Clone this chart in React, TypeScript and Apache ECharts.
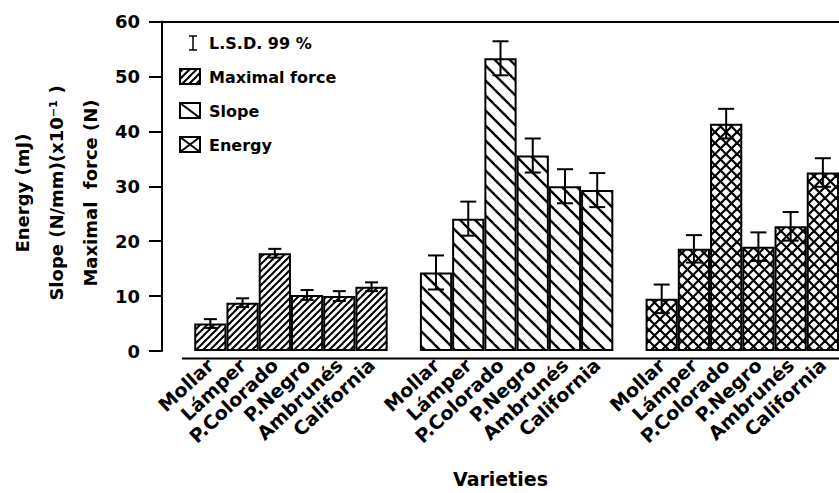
import React, { useEffect, useRef } from "react";
import * as echarts from "echarts";

// ---- data ----
const varieties = ["Mollar", "Lámper", "P.Colorado", "P.Negro", "Ambrunés", "California"];
const groupNames = ["Maximal force", "Slope", "Energy"];
const maximalForce = [5.0, 8.8, 17.8, 10.2, 10.0, 11.7];
const maximalForceLsd = [0.8, 0.8, 0.8, 0.9, 0.9, 0.8];
const slope = [14.3, 24.1, 53.3, 35.6, 30.0, 29.3];
const slopeLsd = [3.1, 3.1, 3.1, 3.1, 3.1, 3.1];
const energy = [9.5, 18.6, 41.4, 19.0, 22.7, 32.5];
const energyLsd = [2.6, 2.5, 2.7, 2.6, 2.6, 2.6];
const yMin = 0;
const yMax = 60;
const yStep = 10;

const FONT = "'DejaVu Sans', sans-serif";

function makeHatch(w: number, h: number, dirs: string[], lw: number) {
  const c = document.createElement("canvas");
  c.width = w;
  c.height = h;
  const ctx = c.getContext("2d")!;
  ctx.fillStyle = "#fff";
  ctx.fillRect(0, 0, w, h);
  ctx.strokeStyle = "#000";
  ctx.lineWidth = lw;
  for (const d of dirs) {
    for (const dx of [-w, 0, w]) {
      ctx.beginPath();
      if (d === "\\") {
        ctx.moveTo(dx - w, -h);
        ctx.lineTo(dx + 2 * w, 2 * h);
      } else {
        ctx.moveTo(dx - w, 2 * h);
        ctx.lineTo(dx + 2 * w, -h);
      }
      ctx.stroke();
    }
  }
  return c;
}

export default function App() {
  const ref = useRef<HTMLDivElement>(null);
  useEffect(() => {
    if (!ref.current) return;
    const chart = echarts.init(ref.current, null, { renderer: "svg" });

    const pForce = { image: makeHatch(7, 7, ["/"], 2), repeat: "repeat" };
    const pSlope = { image: makeHatch(15, 15, ["\\"], 2.4), repeat: "repeat" };
    const pEnergy = { image: makeHatch(11, 11, ["/", "\\"], 2.2), repeat: "repeat" };
    const patterns = [pForce, pSlope, pEnergy];
    const groupValues = [maximalForce, slope, energy];
    const groupLsd = [maximalForceLsd, slopeLsd, energyLsd];

    const categories: string[] = [];
    const barData: any[] = [];
    const errData: any[] = [];
    groupValues.forEach((vals, g) => {
      categories.push("");
      barData.push("-");
      vals.forEach((v, i) => {
        const idx = categories.length;
        categories.push(varieties[i]);
        barData.push({ value: v, name: groupNames[g], itemStyle: { color: patterns[g] } });
        errData.push([idx, v, groupLsd[g][i], g]);
      });
    });

    const x0 = 162;
    const baseY = 358.5;

    const option: any = {
      animation: false,
      backgroundColor: "#fff",
      grid: { left: x0, top: 21.5, width: 682.5, height: 337, containLabel: false },
      xAxis: [
        {
          type: "category",
          data: categories,
          position: "bottom",
          axisLine: { show: false },
          axisTick: { show: false },
          axisLabel: {
            interval: 0,
            rotate: 43,
            margin: 11,
            color: "#000",
            fontFamily: FONT,
            fontWeight: "bold",
            fontSize: 19,
          },
          name: "Varieties",
          nameLocation: "middle",
          nameGap: 118,
          nameTextStyle: { color: "#000", fontFamily: FONT, fontWeight: "bold", fontSize: 19 },
        },
        {
          type: "category",
          data: categories,
          position: "top",
          axisLine: { show: true, lineStyle: { color: "#000", width: 2 } },
          axisTick: { show: false },
          axisLabel: { show: false },
        },
      ],
      yAxis: {
        type: "value",
        min: yMin,
        max: yMax,
        interval: yStep,
        splitLine: { show: false },
        axisLine: { show: true, lineStyle: { color: "#000", width: 2 } },
        axisTick: { show: true, inside: false, length: 13, lineStyle: { color: "#000", width: 2 } },
        axisLabel: { margin: 22, color: "#000", fontFamily: FONT, fontWeight: "bold", fontSize: 18 },
      },
      series: [
        {
          type: "bar",
          data: barData,
          barCategoryGap: "0%",
          itemStyle: { borderColor: "#000", borderWidth: 2 },
          z: 2,
        },
        {
          type: "custom",
          data: errData,
          encode: { x: 0, y: 1 },
          z: 5,
          renderItem: (params: any, api: any) => {
            const x = api.value(0);
            const v = api.value(1);
            const h = api.value(2);
            const g = api.value(3);
            const top = api.coord([x, v + h]);
            const bot = api.coord([x, v - h]);
            const cw = g === 0 ? 6.5 : 8;
            const st = { stroke: "#000", lineWidth: 2 };
            return {
              type: "group",
              children: [
                { type: "line", shape: { x1: top[0], y1: top[1], x2: bot[0], y2: bot[1] }, style: st },
                { type: "line", shape: { x1: top[0] - cw, y1: top[1], x2: top[0] + cw, y2: top[1] }, style: st },
                { type: "line", shape: { x1: bot[0] - cw, y1: bot[1], x2: bot[0] + cw, y2: bot[1] }, style: st },
              ],
            };
          },
        },
      ],
      graphic: [
        // baseline (starts a little right of the y axis, as in the figure)
        { type: "line", shape: { x1: 182, y1: baseY, x2: 839, y2: baseY }, style: { stroke: "#000", lineWidth: 2 }, z: 10 },
        // y-axis titles
        ...[
          { t: "Energy (mJ)", x: 22 },
          { t: "Slope (N/mm)(x10⁻¹ )", x: 56 },
          { t: "Maximal  force (N)", x: 90 },
        ].map((o) => ({
          type: "text",
          x: o.x,
          y: 193,
          rotation: Math.PI / 2,
          style: {
            text: o.t,
            font: `bold 18px ${FONT}`,
            fill: "#000",
            textAlign: "center",
            textVerticalAlign: "middle",
            align: "center",
            verticalAlign: "middle",
          },
        })),
        // legend: LSD
        { type: "line", shape: { x1: 193, y1: 36, x2: 193, y2: 50 }, style: { stroke: "#000", lineWidth: 1.5 } },
        { type: "line", shape: { x1: 189, y1: 36, x2: 197, y2: 36 }, style: { stroke: "#000", lineWidth: 1.5 } },
        { type: "line", shape: { x1: 189, y1: 50, x2: 197, y2: 50 }, style: { stroke: "#000", lineWidth: 1.5 } },
        // legend: maximal force
        { type: "rect", shape: { x: 180, y: 69, width: 20, height: 15 }, style: { fill: pForce as any, stroke: "#000", lineWidth: 2 } },
        // legend: slope
        { type: "rect", shape: { x: 180, y: 103, width: 20, height: 15 }, style: { fill: "#fff", stroke: "#000", lineWidth: 2 } },
        { type: "line", shape: { x1: 180, y1: 103, x2: 200, y2: 118 }, style: { stroke: "#000", lineWidth: 2 } },
        // legend: energy
        { type: "rect", shape: { x: 180, y: 137, width: 20, height: 15 }, style: { fill: "#fff", stroke: "#000", lineWidth: 2 } },
        { type: "line", shape: { x1: 180, y1: 137, x2: 200, y2: 152 }, style: { stroke: "#000", lineWidth: 2 } },
        { type: "line", shape: { x1: 180, y1: 152, x2: 200, y2: 137 }, style: { stroke: "#000", lineWidth: 2 } },
        ...[
          { t: "L.S.D. 99 %", y: 43 },
          { t: groupNames[0], y: 77 },
          { t: groupNames[1], y: 111 },
          { t: groupNames[2], y: 145 },
        ].map((o) => ({
          type: "text",
          x: 209,
          y: o.y,
          style: {
            text: o.t,
            font: `bold 16px ${FONT}`,
            fill: "#000",
            textAlign: "left",
            textVerticalAlign: "middle",
            align: "left",
            verticalAlign: "middle",
          },
        })),
      ],
    };
    chart.setOption(option);
    return () => chart.dispose();
  }, []);
  return (
    <div
      ref={ref}
      style={{ position: "fixed", left: 0, top: 0, width: 839, height: 493, background: "#fff" }}
    />
  );
}
